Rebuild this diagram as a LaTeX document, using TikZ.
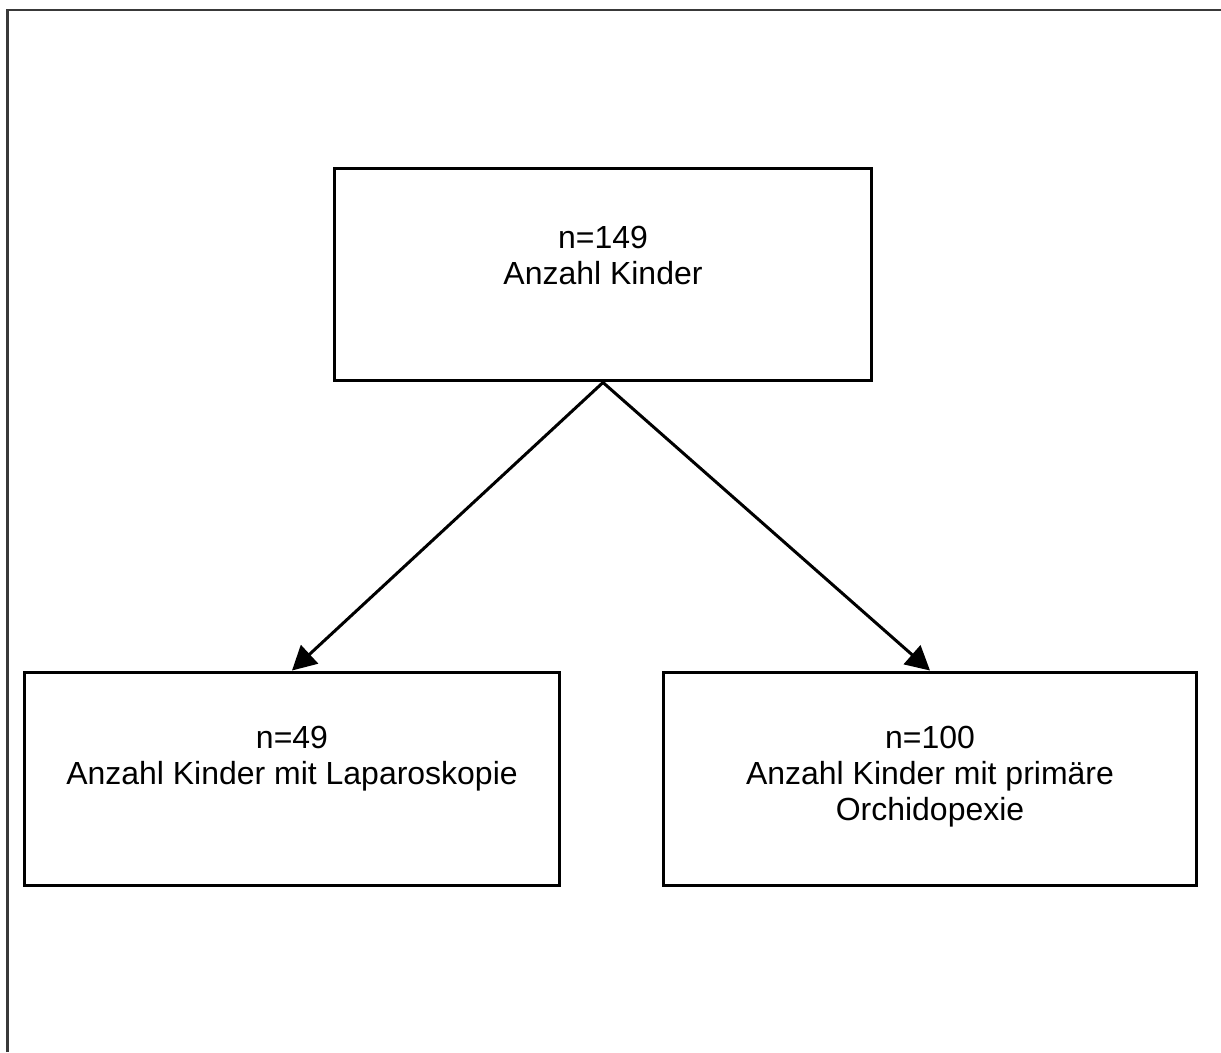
\documentclass[tikz,border=0pt]{standalone}
\usepackage{fontspec}
\setmainfont{Liberation Sans}
\usetikzlibrary{arrows.meta,positioning}

\tikzset{
    box/.style={draw, line width=0.06cm, minimum width=10.76cm, minimum height=4.26cm},
    boxtext/.style={align=center, font=\fontsize{18.2}{20.5}\selectfont},
    pfeil/.style={line width=0.06cm, -{Triangle[length=0.48cm, width=0.5cm]}}
}

\begin{document}
\begin{tikzpicture}[x=0.02cm, y=-0.02cm]
                        \useasboundingbox (0, 0) rectangle (1221, 1052);

                        % Rahmen (nur oben und links sichtbar)
                        \draw[line width=0.05cm, gray!45!black] (7.5, 1052) -- (7.5, 10) -- (1221, 10);

                        \node[box] (gesamt) at (603, 274.5) {};
                        \node[box, minimum width=10.72cm, minimum height=4.28cm] (lap) at (292, 779) {};
                        \node[box, minimum width=10.68cm, minimum height=4.28cm] (orch) at (930, 779) {};

                        \node[boxtext] (gesamttext) at (603, 255) {n=149\\Anzahl Kinder};
                        \node[boxtext] (laptext) at (292, 759) {n=49\\Anzahl Kinder mit Laparoskopie};
                        \node[boxtext] (orchtext) at (930, 777) {n=100\\Anzahl Kinder mit primäre\\Orchidopexie};

                        \draw[pfeil] (gesamt.south) -- (lap.north);
                        \draw[pfeil] (gesamt.south) -- (orch.north);
                    \end{tikzpicture}
\end{document}
